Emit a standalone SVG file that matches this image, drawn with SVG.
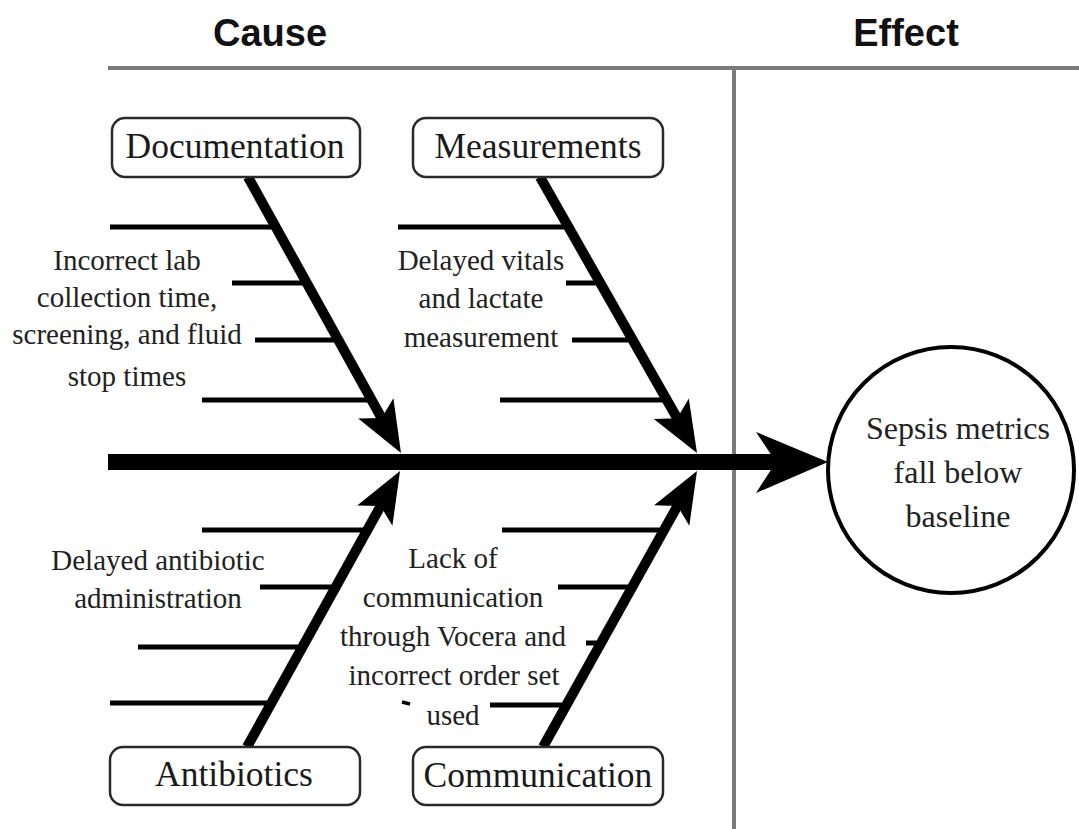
<svg xmlns="http://www.w3.org/2000/svg" width="1079" height="829" viewBox="0 0 1079 829">
<style>
.hdr{font-family:"Liberation Sans",Arial,sans-serif;font-weight:bold;font-size:38px;fill:#111;text-anchor:middle}
.box{fill:#fff;stroke:#2a2a2a;stroke-width:2.5}
.bl{font-family:"Liberation Serif","Times New Roman",serif;font-size:35.5px;fill:#1a1a1a;text-anchor:middle}
.lab{font-family:"Liberation Serif","Times New Roman",serif;font-size:29px;fill:#222;text-anchor:middle}
.eff{font-size:32px}
.sep{stroke:#7a7a7a;stroke-width:4;fill:none}
.spine{stroke:#000;stroke-width:10;fill:none}
.rib{stroke:#000;stroke-width:5;fill:none}
.head{fill:#000}
</style>
<rect width="1079" height="829" fill="#fff"/>
<g id="header">
<text class="hdr" x="270" y="46">Cause</text>
<text class="hdr" x="906" y="46">Effect</text>
<line class="sep" x1="108" y1="68" x2="1079" y2="68"/>
<line class="sep" x1="734" y1="68" x2="734" y2="829"/>
</g>
<g id="connectors">
<line x1="108" y1="462" x2="780" y2="462" stroke="#000" stroke-width="16"/>
<polygon class="head" points="756,432 828,462 756,493 776,462"/>
<line class="spine" x1="248" y1="177" x2="381.6" y2="418"/>
<polygon class="head" points="401,453 358.2,418.5 381.6,418 393.4,398.3"/>
<line class="spine" x1="540" y1="177" x2="677.2" y2="418.2"/>
<polygon class="head" points="697,453 653.8,419 677.2,418.2 688.8,398.4"/>
<line class="spine" x1="247" y1="747" x2="380.6" y2="506"/>
<polygon class="head" points="400,471 392.4,525.7 380.6,506 357.2,505.5"/>
<line class="spine" x1="543" y1="747" x2="677.5" y2="505.9"/>
<polygon class="head" points="697,471 689.3,525.7 677.5,505.9 654.1,505.3"/>
<line class="rib" x1="110" y1="227" x2="276" y2="227"/>
<line class="rib" x1="232" y1="283" x2="307" y2="283"/>
<line class="rib" x1="255" y1="340" x2="338" y2="340"/>
<line class="rib" x1="202" y1="400" x2="372" y2="400"/>
<line class="rib" x1="398" y1="227" x2="568" y2="227"/>
<line class="rib" x1="566" y1="283" x2="600" y2="283"/>
<line class="rib" x1="572" y1="340" x2="633" y2="340"/>
<line class="rib" x1="500" y1="400" x2="667" y2="400"/>
<line class="rib" x1="202" y1="530" x2="367" y2="530"/>
<line class="rib" x1="260" y1="587" x2="336" y2="587"/>
<line class="rib" x1="138" y1="647" x2="302" y2="647"/>
<line class="rib" x1="110" y1="703" x2="271" y2="703"/>
<line class="rib" x1="502" y1="530" x2="664" y2="530"/>
<line class="rib" x1="558" y1="587" x2="632" y2="587"/>
<line class="rib" x1="586" y1="643" x2="601" y2="643"/>
<line class="rib" x1="490" y1="705" x2="566" y2="705"/>
<line x1="402" y1="702" x2="410" y2="704" stroke="#000" stroke-width="3.5"/>
</g>
<g id="documentation">
<rect class="box" x="112" y="118" width="248" height="59" rx="13"/>
<text class="bl" x="235" y="158">Documentation</text>
</g>
<g id="measurements">
<rect class="box" x="413" y="118" width="250" height="59" rx="13"/>
<text class="bl" x="538" y="158">Measurements</text>
</g>
<g id="antibiotics">
<rect class="box" x="110" y="747" width="250" height="58" rx="13"/>
<text class="bl" x="234" y="786">Antibiotics</text>
</g>
<g id="communication">
<rect class="box" x="413" y="747" width="250" height="58" rx="13"/>
<text class="bl" x="538" y="787">Communication</text>
</g>
<g id="doc-cause">
<text class="lab" x="127" y="270">Incorrect lab</text>
<text class="lab" x="127" y="307">collection time,</text>
<text class="lab" x="127" y="344">screening, and fluid</text>
<text class="lab" x="127" y="386">stop times</text>
</g>
<g id="meas-cause">
<text class="lab" x="481" y="270">Delayed vitals</text>
<text class="lab" x="481" y="308">and lactate</text>
<text class="lab" x="481" y="347">measurement</text>
</g>
<g id="abx-cause">
<text class="lab" x="158" y="570">Delayed antibiotic</text>
<text class="lab" x="158" y="608">administration</text>
</g>
<g id="comm-cause">
<text class="lab" x="453" y="568">Lack of</text>
<text class="lab" x="453" y="607">communication</text>
<text class="lab" x="453" y="646">through Vocera and</text>
<text class="lab" x="454" y="685">incorrect order set</text>
<text class="lab" x="453" y="725">used</text>
</g>
<g id="effect">
<circle cx="951" cy="470" r="123" fill="#fff" stroke="#000" stroke-width="4"/>
<text class="lab eff" x="958" y="439">Sepsis metrics</text>
<text class="lab eff" x="958" y="483">fall below</text>
<text class="lab eff" x="958" y="527">baseline</text>
</g>
</svg>
